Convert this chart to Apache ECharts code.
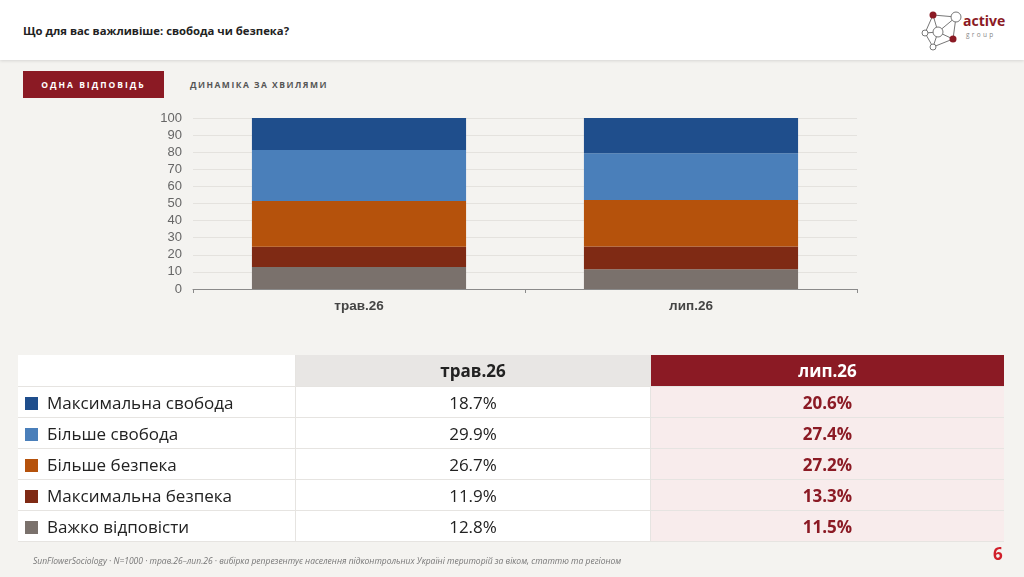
<!DOCTYPE html>
<html><head><meta charset="utf-8">
<script src="https://cdn.jsdelivr.net/npm/echarts@6/dist/echarts.min.js"></script>
<style>
html,body{margin:0;padding:0;}
body{width:1024px;height:577px;background:#f4f3f0;position:relative;overflow:hidden;font-family:"Open Sans","Noto Sans",sans-serif;}
#hdr{position:absolute;left:0;top:0;width:1024px;height:60px;background:#fff;box-shadow:0 1px 3px rgba(0,0,0,0.12);}
#title{position:absolute;left:23px;top:23px;font-size:11.3px;font-weight:bold;color:#222;}
#tab1{position:absolute;left:23px;top:71px;width:141px;height:27px;background:#8b1a24;color:#fff;font-size:8.5px;font-weight:bold;letter-spacing:2px;line-height:27px;text-align:center;}
#tab2{position:absolute;left:190px;top:71px;height:27px;color:#555;font-size:8.5px;font-weight:bold;letter-spacing:1.5px;line-height:27px;}
#chart{position:absolute;left:0;top:0;width:1024px;height:577px;}
#tbl{position:absolute;left:18px;top:355px;border-collapse:collapse;font-family:"Open Sans","Noto Sans",sans-serif;}
#tbl td{padding:0;height:30px;font-size:17px;color:#222;border-bottom:1px solid #e6e4e1;}
#tbl td.c0{width:277px;background:#fff;border-right:1px solid #e6e4e1;}
#tbl td.c1{width:354px;background:#fff;text-align:center;border-right:1px solid #e6e4e1;}
#tbl td.c2{width:353px;background:#f8ecec;text-align:center;color:#8b1a24;font-weight:bold;}
#tbl tr.h td{height:31px;font-weight:bold;}
#tbl tr.h td.c1{background:#e8e6e4;color:#222;}
#tbl tr.h td.c2{background:#8b1a24;color:#fff;}
.sw{display:inline-block;width:13px;height:13px;margin:0 9px 0 7px;vertical-align:-1px;}
#foot{position:absolute;left:33px;top:555px;font-size:8.5px;font-style:italic;color:#777;}
#pg{position:absolute;left:993px;top:542px;font-size:17px;font-weight:bold;color:#d01f2a;}
#logo{position:absolute;left:915px;top:5px;}
</style></head>
<body>
<div id="hdr"></div>
<div id="title">Що для вас важливіше: свобода чи безпека?</div>
<svg id="logo" width="100" height="50" viewBox="0 0 100 50">
 <g stroke="#777" stroke-width="1" fill="none">
  <line x1="18" y1="10" x2="41" y2="12"/><line x1="18" y1="10" x2="10" y2="28"/><line x1="18" y1="10" x2="23" y2="27"/>
  <line x1="41" y1="12" x2="23" y2="27"/><line x1="41" y1="12" x2="38" y2="34"/><line x1="10" y1="28" x2="23" y2="27"/>
  <line x1="10" y1="28" x2="18" y2="42"/><line x1="23" y1="27" x2="18" y2="42"/><line x1="23" y1="27" x2="38" y2="34"/><line x1="18" y1="42" x2="38" y2="34"/>
 </g>
 <circle cx="18" cy="10" r="3.5" fill="#8b1a24"/>
 <circle cx="41" cy="12" r="5" fill="#fff" stroke="#777"/>
 <circle cx="10" cy="28" r="3" fill="#fff" stroke="#777"/>
 <circle cx="23" cy="27" r="5" fill="#fff" stroke="#777"/>
 <circle cx="38" cy="34" r="3.5" fill="#8b1a24"/>
 <circle cx="18" cy="42" r="3" fill="#fff" stroke="#777"/>
 <text x="48" y="21" font-family="Open Sans, sans-serif" font-weight="bold" font-size="14" fill="#8b1a24">active</text>
 <text x="51" y="32" font-family="Open Sans, sans-serif" font-size="6.5" letter-spacing="2.3" fill="#888">group</text>
</svg>
<div id="tab1">ОДНА ВІДПОВІДЬ</div>
<div id="tab2">ДИНАМІКА ЗА ХВИЛЯМИ</div>
<div id="chart"></div>
<table id="tbl"></table>
<div id="foot">SunFlowerSociology · N=1000 · трав.26–лип.26 · вибірка репрезентує населення підконтрольних Україні територій за віком, статтю та регіоном</div>
<div id="pg">6</div>
<script>
var waves = ["трав.26", "лип.26"];
var seriesNames = ["Максимальна свобода", "Більше свобода", "Більше безпека", "Максимальна безпека", "Важко відповісти"];
var maxFreedom = [18.7, 20.6];
var moreFreedom = [29.9, 27.4];
var moreSecurity = [26.7, 27.2];
var maxSecurity = [11.9, 13.3];
var hardToSay = [12.8, 11.5];
var yTicks = [0, 10, 20, 30, 40, 50, 60, 70, 80, 90, 100];
var colors = ["#1f4e8c", "#4a7fba", "#b5520c", "#7f2a14", "#7a716c"];

var values = [maxFreedom, moreFreedom, moreSecurity, maxSecurity, hardToSay];
// stacking order: bottom to top
var stackOrder = [4, 3, 2, 1, 0];
var series = stackOrder.map(function (i) {
  return {
    name: seriesNames[i], type: "bar", stack: "all", barWidth: "64.5%",
    data: values[i], itemStyle: { color: colors[i] }, silent: true
  };
});

var chart = echarts.init(document.getElementById("chart"), null, { renderer: "canvas" });
chart.setOption({
  animation: false,
  backgroundColor: "transparent",
  grid: { left: 193, right: 167, top: 118, bottom: 288, containLabel: false },
  xAxis: {
    type: "category", data: waves,
    axisLine: { lineStyle: { color: "#8a8a8a", width: 1 } },
    axisTick: { show: true, length: 4, lineStyle: { color: "#8a8a8a" } },
    axisLabel: { color: "#444", fontSize: 13.5, fontWeight: "bold", fontFamily: "Liberation Sans, Arial, sans-serif", margin: 10 }
  },
  yAxis: {
    type: "value", min: yTicks[0], max: yTicks[yTicks.length - 1], interval: yTicks[1] - yTicks[0],
    axisLine: { show: false }, axisTick: { show: false },
    axisLabel: { color: "#666", fontSize: 13, fontFamily: "Liberation Sans, Arial, sans-serif", margin: 11 },
    splitLine: { lineStyle: { color: "#e4e2de", width: 1 } }
  },
  series: series
});

// table
var tbl = document.getElementById("tbl");
var html = '<tr class="h"><td class="c0"></td><td class="c1">' + waves[0] + '</td><td class="c2">' + waves[1] + '</td></tr>';
for (var i = 0; i < seriesNames.length; i++) {
  html += '<tr><td class="c0"><span class="sw" style="background:' + colors[i] + '"></span>' + seriesNames[i] +
    '</td><td class="c1">' + values[i][0].toFixed(1) + '%</td><td class="c2">' + values[i][1].toFixed(1) + '%</td></tr>';
}
tbl.innerHTML = html;
</script>
</body></html>
